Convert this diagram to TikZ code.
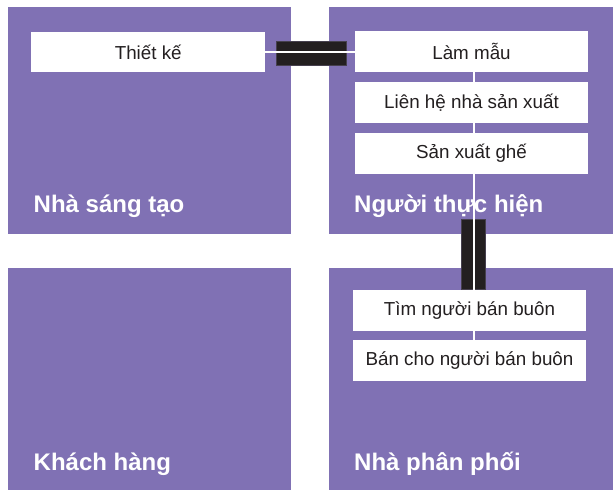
\documentclass[tikz,border=0pt]{standalone}
\usepackage{fontspec}
\setmainfont{Liberation Sans}
\definecolor{quadpurple}{RGB}{128,113,180}
\definecolor{darktext}{RGB}{35,31,32}
\definecolor{barblack}{RGB}{35,31,32}
\definecolor{baredge}{RGB}{70,64,78}
\tikzset{
  quad/.style={fill=quadpurple, draw=none, inner sep=0pt, anchor=north west},
  title/.style={text=white, font=\bfseries\fontsize{24}{24}\selectfont, inner sep=0pt, anchor=base west},
  wbox/.style={fill=white, draw=none, text=darktext, font=\fontsize{18.8}{18.8}\selectfont, inner sep=0pt, minimum height=40.7pt},
  barbox/.style={fill=barblack, draw=baredge, line width=0.8pt, inner sep=0pt},
  wline/.style={draw=white, line width=1.8pt}
}
\begin{document}
\begin{tikzpicture}[x=1pt,y=-1pt]
\useasboundingbox (0,0) rectangle (613,491);
\fill[white] (0,0) rectangle (613,491);
% quadrants
\node[quad, minimum width=283pt, minimum height=226.5pt] (q1) at (8,7) {};
\node[quad, minimum width=284pt, minimum height=226.5pt] (q2) at (329,7) {};
\node[quad, minimum width=283pt, minimum height=222pt] (q3) at (8,268) {};
\node[quad, minimum width=284pt, minimum height=222pt] (q4) at (329,268) {};
% titles
\node[title] (t1) at (33.5,212) {Nhà sáng tạo};
\node[title] (t2) at (354,212) {Người thực hiện};
\node[title] (t3) at (33.5,470) {Khách hàng};
\node[title] (t4) at (354,470) {Nhà phân phối};
% black bars
\node[barbox, minimum width=70pt, minimum height=24pt] (bar1) at (311,53) {};
\node[barbox, minimum width=24pt, minimum height=70pt] (bar2) at (473.7,254.2) {};
% white boxes
\node[wbox, minimum width=233.7pt] (tk) at (148.2,52) {Thiết kế};
\node[wbox, minimum width=233pt] (lm) at (471.5,51.7) {Làm mẫu};
\node[wbox, minimum width=233pt] (lh) at (471.5,102.3) {Liên hệ nhà sản xuất};
\node[wbox, minimum width=233pt] (sx) at (471.5,153.7) {Sản xuất ghế};
\node[wbox, minimum width=233.6pt] (tim) at (469.5,310.3) {Tìm người bán buôn};
\node[wbox, minimum width=233.6pt] (ban) at (469.5,360.7) {Bán cho người bán buôn};
% connectors
\draw[wline] (tk.east) -- (tk.east -| lm.west);
\draw[wline] (lm.south -| bar2) -- (lh.north -| bar2);
\draw[wline] (lh.south -| bar2) -- (sx.north -| bar2);
\draw[wline] (sx.south -| bar2) -- (tim.north -| bar2);
\draw[wline] (tim.south -| bar2) -- (ban.north -| bar2);
\end{tikzpicture}
\end{document}
